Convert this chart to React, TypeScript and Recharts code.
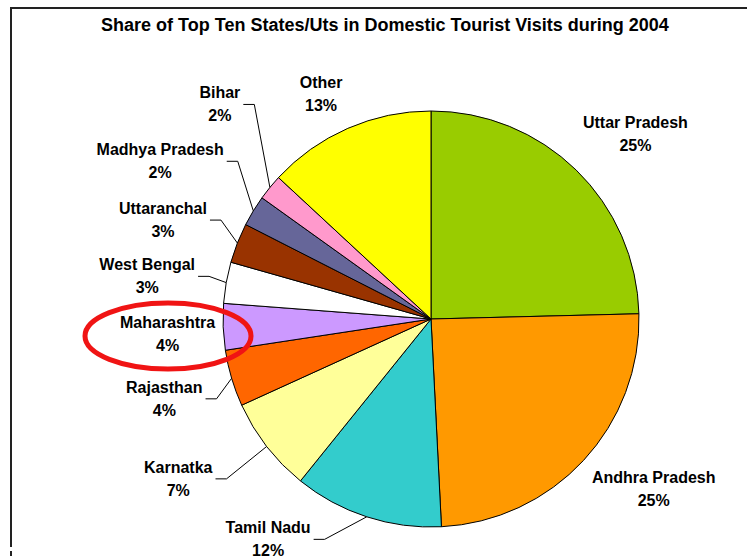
import { PieChart, Pie, Cell } from "recharts";

const states = [
  "Uttar Pradesh",
  "Andhra Pradesh",
  "Tamil Nadu",
  "Karnatka",
  "Rajasthan",
  "Maharashtra",
  "West Bengal",
  "Uttaranchal",
  "Madhya Pradesh",
  "Bihar",
  "Other",
];
const shares = [24.6, 24.6, 11.6, 7.4, 4.4, 3.6, 3.2, 3.1, 2.4, 2.0, 13.1];
const colors = [
  "#99CC00",
  "#FF9900",
  "#33CCCC",
  "#FFFF99",
  "#FF6600",
  "#CC99FF",
  "#FFFFFF",
  "#993300",
  "#666699",
  "#FF99CC",
  "#FFFF00",
];

const data = states.map((name, i) => ({ name, value: shares[i] }));

const FONT = "'Liberation Sans', Arial, sans-serif";

// Excel moved some labels off their default spot; these shift them back into place
const labelNudge: Record<string, [number, number]> = {
  "Uttar Pradesh": [17, -15],
  "Andhra Pradesh": [19, 8],
  "Tamil Nadu": [-83, -6],
  Karnatka: [-55, 14],
  Rajasthan: [-23, 12],
  Maharashtra: [0, 6],
  "West Bengal": [-24, -1],
  Uttaranchal: [-26, -12],
  "Madhya Pradesh": [-32, -34],
  Bihar: [-28, -64],
  Other: [-15, -7],
};
const withLeader = new Set([
  "Tamil Nadu",
  "Karnatka",
  "Rajasthan",
  "West Bengal",
  "Uttaranchal",
  "Madhya Pradesh",
  "Bihar",
]);

let ctx: CanvasRenderingContext2D | null = null;
function textWidth(s: string) {
  if (!ctx) {
    ctx = document.createElement("canvas").getContext("2d");
    if (ctx) ctx.font = `bold 16px ${FONT}`;
  }
  return ctx ? ctx.measureText(s).width : s.length * 9;
}

function SliceLabel(props: any) {
  const { cx, cy, midAngle, outerRadius, name, percent } = props;
  const rad = Math.PI / 180;
  const dx = Math.cos(midAngle * rad);
  const dy = -Math.sin(midAngle * rad);
  const tw = textWidth(name);
  const r = outerRadius + 8;
  const [nx, ny] = labelNudge[name] ?? [0, 0];
  const x = cx + r * dx + dx * (tw / 2) + nx;
  const y = cy + r * dy + dy * 22 + ny;

  let leader = null;
  if (withLeader.has(name)) {
    const sx = cx + outerRadius * dx;
    const sy = cy + outerRadius * dy;
    const edge = x + tw / 2 + 3;
    leader = (
      <polyline
        points={`${sx},${sy} ${edge + 11},${y} ${edge},${y}`}
        fill="none"
        stroke="#000"
        strokeWidth={1}
      />
    );
  }

  return (
    <g>
      {leader}
      <text
        x={x}
        y={y - 11.5}
        textAnchor="middle"
        dominantBaseline="central"
        fontFamily={FONT}
        fontWeight="bold"
        fontSize={16}
        fill="#000"
      >
        {name}
      </text>
      <text
        x={x}
        y={y + 11.5}
        textAnchor="middle"
        dominantBaseline="central"
        fontFamily={FONT}
        fontWeight="bold"
        fontSize={16}
        fill="#000"
      >
        {`${Math.round(percent * 100)}%`}
      </text>
    </g>
  );
}

export default function App() {
  return (
    <div
      style={{
        position: "absolute",
        left: 0,
        top: 0,
        width: 747,
        height: 556,
        overflow: "hidden",
        background: "#fff",
      }}
    >
      <PieChart width={747} height={556} margin={{ top: 0, right: 0, bottom: 0, left: 0 }}>
        <Pie
          data={data}
          dataKey="value"
          nameKey="name"
          cx={431}
          cy={319}
          outerRadius={208}
          startAngle={90}
          endAngle={-270}
          stroke="#000"
          strokeWidth={1}
          label={SliceLabel}
          labelLine={false}
          isAnimationActive={false}
        >
          {data.map((d, i) => (
            <Cell key={d.name} fill={colors[i]} />
          ))}
        </Pie>
      </PieChart>

      <svg
        width={747}
        height={556}
        style={{ position: "absolute", left: 0, top: 0, pointerEvents: "none" }}
      >
        <path d="M11,547 L11,8 L747,8" fill="none" stroke="#222" strokeWidth={2} />
        <line x1={11} y1={551} x2={11} y2={556} stroke="#222" strokeWidth={2} />
        <text
          x={385}
          y={25}
          textAnchor="middle"
          dominantBaseline="central"
          fontFamily={FONT}
          fontWeight="bold"
          fontSize={18}
          fill="#000"
        >
          Share of Top Ten States/Uts in Domestic Tourist Visits during 2004
        </text>
        <ellipse cx={168} cy={336} rx={83} ry={33} fill="none" stroke="#F01414" strokeWidth={5} />
      </svg>
    </div>
  );
}
